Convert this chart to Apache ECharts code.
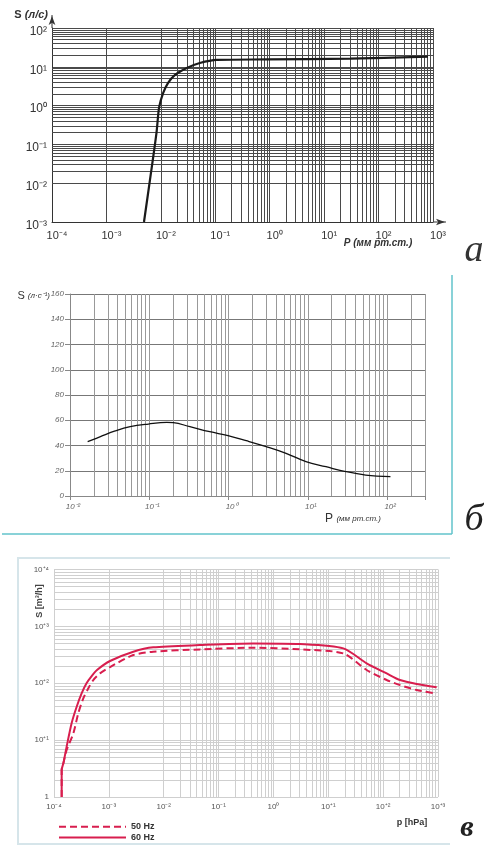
<!DOCTYPE html>
<html><head><meta charset="utf-8">
<script src="https://cdn.jsdelivr.net/npm/echarts@6/dist/echarts.min.js"></script>
<style>html,body{margin:0;padding:0;background:#fff}#c{width:484px;height:848px}</style>
</head><body><div id="c"></div>
<script>
// ---------- Chart а : S (л/с) vs P (мм рт.ст.) ----------
const aP = [0.0049, 0.0063, 0.0083, 0.0093, 0.011, 0.0135, 0.018, 0.030, 0.052, 0.107, 0.89, 30, 810];
const aS = [0.001, 0.012, 0.195, 0.91, 2.1, 3.8, 6.1, 9.3, 12.5, 15, 15.5, 16.3, 18.2];
const aXLabels = ['10⁻⁴','10⁻³','10⁻²','10⁻¹','10⁰','10¹','10²','10³'];
const aYLabels = ['10⁻³','10⁻²','10⁻¹','10⁰','10¹','10²'];

// ---------- Chart б : S (л·с⁻¹) vs P (мм рт.ст.) ----------
const bP = [0.0167, 0.0242, 0.0372, 0.0574, 0.0975, 0.166, 0.201, 0.325, 0.579, 0.984, 1.67, 2.98, 5.31, 9.46, 16.9, 30.1, 53.6, 110];
const bS = [43.0, 47.0, 51.5, 54.9, 57.0, 58.3, 58.1, 54.9, 50.9, 47.8, 43.8, 39.1, 33.8, 27.2, 23.2, 19.3, 16.6, 15.3];
const bXLabels = ['10⁻²','10⁻¹','10⁰','10¹','10²'];

// ---------- Chart в : S [m³/h] vs p [hPa] ----------
const c60P = [1.38e-4, 1.38e-4, 1.48e-4, 1.70e-4, 2.10e-4, 2.59e-4, 3.20e-4, 3.94e-4, 4.86e-4, 6.08e-4, 1.05e-3, 2.79e-3, 6.45e-3, 0.0458, 0.43, 3.05, 18.8, 50, 116, 203, 408, 946];
const c60S = [1, 3.0, 3.9, 7.7, 20, 38.6, 67, 101, 134, 171, 246, 358, 428, 469, 502, 489, 410, 224, 149, 114, 97, 85];
const c50P = [1.38e-4, 1.38e-4, 1.48e-4, 1.70e-4, 2.25e-4, 2.77e-4, 3.42e-4, 4.22e-4, 5.2e-4, 6.9e-4, 1.05e-3, 2.79e-3, 6.45e-3, 0.0458, 0.43, 3.05, 18.8, 50, 116, 203, 408, 946];
const c50S = [1, 3.0, 3.9, 6.7, 13.1, 29.6, 54.3, 81.4, 114, 149, 193, 313, 358, 394, 421, 394, 335, 171, 114, 93, 76, 66];
const cXLabels = ['10⁻⁴','10⁻³','10⁻²','10⁻¹','10⁰','10⁺¹','10⁺²','10⁺³'];
const cYLabels = ['1','10⁺¹','10⁺²','10⁺³','10⁺⁴'];
const seriesNames = ['50 Hz', '60 Hz'];

// helpers
const zip = (xs, ys) => xs.map((x, i) => [x, ys[i]]);
function minorVals(minExp, maxExp, maxVal) {
  const out = [];
  for (let e = minExp; e < maxExp; e++) for (let k = 2; k <= 9; k++) {
    const v = k * Math.pow(10, e);
    if (v <= maxVal * 1.0000001) out.push(v);
  }
  return out;
}
function decadeFmt(labels, minExp) {
  return function (v) {
    const l = Math.log10(v), r = Math.round(l);
    if (Math.abs(l - r) > 1e-6) return '';
    const s = labels[r - minExp];
    return s === undefined ? '' : s;
  };
}
function gridSeries(xi, yi, xs, ys, color) {
  return {
    type: 'line', xAxisIndex: xi, yAxisIndex: yi, data: [], z: 1, silent: true,
    markLine: {
      silent: true, symbol: 'none', animation: false,
      label: { show: false },
      lineStyle: { color: color, width: 1, type: 'solid' },
      emphasis: { disabled: true },
      data: [...xs.map(v => ({ xAxis: v })), ...ys.map(v => ({ yAxis: v }))]
    }
  };
}

const chart = echarts.init(document.getElementById('c'), null, { renderer: 'canvas' });
const FONT = 'Liberation Sans, Arial, sans-serif';
const aColor = '#4a4a4a', cGrid = '#cfcfcf', red = '#d81e4e';

const option = {
  animation: false,
  backgroundColor: '#fff',
  grid: [
    { left: 52, top: 28, width: 381, height: 194 },
    { left: 70, top: 294, width: 355, height: 202 },
    { left: 54, top: 569.5, width: 384, height: 227.5 }
  ],
  xAxis: [
    { gridIndex: 0, type: 'log', logBase: 10, min: 1e-4, max: 1e3, splitNumber: 7,
      axisLine: { show: true, lineStyle: { color: '#333', width: 1 }, symbol: ['none', 'arrow'], symbolSize: [5, 9], symbolOffset: [0, 12] },
      axisTick: { show: false },
      axisLabel: { formatter: decadeFmt(aXLabels, -4), fontSize: 11, color: '#333', fontFamily: FONT, margin: 8, padding: [0, 0, 0, 10] },
      splitLine: { show: true, lineStyle: { color: aColor, width: 1 } } },
    { gridIndex: 1, type: 'log', logBase: 10, min: 1e-2, max: 300, splitNumber: 4,
      axisLine: { show: true, lineStyle: { color: '#888', width: 1 } },
      axisTick: { show: true, length: 4, lineStyle: { color: '#888' } },
      axisLabel: { formatter: decadeFmt(bXLabels, -2), fontSize: 8, fontStyle: 'italic', color: '#666', fontFamily: 'Liberation Sans Narrow, ' + FONT, margin: 7, padding: [0, 0, 0, 6] },
      splitLine: { show: true, lineStyle: { color: '#999', width: 1 } } },
    { gridIndex: 2, type: 'log', logBase: 10, min: 1e-4, max: 1e3, splitNumber: 7,
      axisLine: { show: false }, axisTick: { show: false },
      axisLabel: { formatter: decadeFmt(cXLabels, -4), fontSize: 8, color: '#555', fontFamily: FONT, margin: 6 },
      splitLine: { show: true, lineStyle: { color: cGrid, width: 1 } } }
  ],
  yAxis: [
    { gridIndex: 0, type: 'log', logBase: 10, min: 1e-3, max: 1e2, splitNumber: 5,
      axisLine: { show: true, lineStyle: { color: '#333', width: 1 }, symbol: ['none', 'arrow'], symbolSize: [5, 9], symbolOffset: [0, 12] },
      axisTick: { show: false },
      axisLabel: { formatter: decadeFmt(aYLabels, -3), fontSize: 12, color: '#333', fontFamily: FONT, margin: 5, verticalAlign: 'top', lineHeight: 7 },
      splitLine: { show: true, lineStyle: { color: aColor, width: 1 } } },
    { gridIndex: 1, type: 'value', min: 0, max: 160, interval: 20,
      axisLine: { show: true, lineStyle: { color: '#888', width: 1 } },
      axisTick: { show: true, length: 5, lineStyle: { color: '#888' } },
      axisLabel: { fontSize: 8, fontStyle: 'italic', color: '#666', fontFamily: 'Liberation Sans Narrow, ' + FONT, margin: 6, padding: [0, 0, 4, 0] },
      splitLine: { show: true, lineStyle: { color: '#777', width: 1 } } },
    { gridIndex: 2, type: 'log', logBase: 10, min: 1, max: 1e4, splitNumber: 4,
      axisLine: { show: false }, axisTick: { show: false },
      axisLabel: { formatter: decadeFmt(cYLabels, 0), fontSize: 8, color: '#555', fontFamily: FONT, margin: 5 },
      splitLine: { show: true, lineStyle: { color: cGrid, width: 1 } } }
  ],
  legend: {
    orient: 'vertical', left: 53, top: 817, itemWidth: 67, itemHeight: 12, itemGap: 1,
    data: seriesNames,
    itemStyle: { opacity: 0, borderWidth: 0 },
    textStyle: { fontSize: 9, fontWeight: 'bold', color: '#333', fontFamily: FONT },
    selectedMode: false
  },
  series: [
    gridSeries(0, 0, minorVals(-4, 3, 1e3), minorVals(-3, 2, 1e2), aColor),
    gridSeries(1, 1, minorVals(-2, 3, 300), [], '#999'),
    gridSeries(2, 2, minorVals(-4, 3, 1e3), minorVals(0, 4, 1e4), cGrid),
    { type: 'line', xAxisIndex: 0, yAxisIndex: 0, data: zip(aP, aS), smooth: 0.3, symbol: 'none', z: 5,
      lineStyle: { color: '#1a1a1a', width: 2.2 } },
    { type: 'line', xAxisIndex: 1, yAxisIndex: 1, data: zip(bP, bS), smooth: 0.4, symbol: 'none', z: 5,
      lineStyle: { color: '#111', width: 1.3 } },
    { name: seriesNames[0], type: 'line', xAxisIndex: 2, yAxisIndex: 2, data: zip(c50P, c50S), smooth: 0.25, symbol: 'none', z: 5,
      itemStyle: { color: red }, lineStyle: { color: red, width: 2, type: [7, 4] } },
    { name: seriesNames[1], type: 'line', xAxisIndex: 2, yAxisIndex: 2, data: zip(c60P, c60S), smooth: 0.25, symbol: 'none', z: 5,
      itemStyle: { color: red }, lineStyle: { color: red, width: 2 } }
  ],
  graphic: [
    // chart а decorations
    { type: 'line', shape: { x1: 433, y1: 222, x2: 446, y2: 222 }, style: { stroke: '#333', lineWidth: 1 } },
    { type: 'line', shape: { x1: 52, y1: 28, x2: 52, y2: 15 }, style: { stroke: '#333', lineWidth: 1 } },
    { type: 'text', style: { x: 48, y: 15, align: 'right', verticalAlign: 'middle',
        text: '{a|S }{b|(л/с)}', rich: { a: { font: 'bold 11px ' + FONT, fill: '#333' }, b: { font: 'italic bold 11px ' + FONT, fill: '#333' } } } },
    { type: 'text', style: { x: 378, y: 243, align: 'center', verticalAlign: 'middle', text: 'P (мм рт.ст.)', font: 'italic bold 10px ' + FONT, fill: '#333' } },
    { type: 'text', style: { x: 474, y: 251, align: 'center', verticalAlign: 'middle', text: 'а', font: 'italic 38px Liberation Serif, serif', fill: '#333' } },
    // chart б decorations
    { type: 'text', style: { x: 50, y: 296, align: 'right', verticalAlign: 'middle',
        text: '{a|S }{b|(л·с⁻¹)}', rich: { a: { font: '11px ' + FONT, fill: '#333' }, b: { font: 'italic 8px ' + FONT, fill: '#333' } } } },
    { type: 'text', style: { x: 353, y: 519, align: 'center', verticalAlign: 'middle',
        text: '{a|P }{b|(мм рт.ст.)}', rich: { a: { font: '12px ' + FONT, fill: '#333' }, b: { font: 'italic 8px ' + FONT, fill: '#333' } } } },
    { type: 'line', shape: { x1: 452, y1: 275, x2: 452, y2: 534 }, style: { stroke: '#62c3cb', lineWidth: 1.5 } },
    { type: 'line', shape: { x1: 2, y1: 534, x2: 452, y2: 534 }, style: { stroke: '#62c3cb', lineWidth: 1.5 } },
    { type: 'text', style: { x: 474, y: 520, align: 'center', verticalAlign: 'middle', text: 'б', font: 'italic 38px Liberation Serif, serif', fill: '#222' } },
    // chart в decorations
    { type: 'polyline', shape: { points: [[450, 558], [18, 558], [18, 844], [450, 844]] }, style: { stroke: '#d6e5ea', lineWidth: 2, fill: null } },
    { type: 'text', rotation: Math.PI / 2, x: 40, y: 601, style: { x: 0, y: 0, align: 'center', verticalAlign: 'middle', text: 'S [m³/h]', font: 'bold 9px ' + FONT, fill: '#444' } },
    { type: 'text', style: { x: 412, y: 823, align: 'center', verticalAlign: 'middle', text: 'p [hPa]', font: 'bold 9px ' + FONT, fill: '#333' } },
    { type: 'text', style: { x: 467, y: 828, align: 'center', verticalAlign: 'middle', text: 'в', font: 'italic bold 30px Liberation Serif, serif', fill: '#222' } }
  ]
};
chart.setOption(option);
</script>
</body></html>
